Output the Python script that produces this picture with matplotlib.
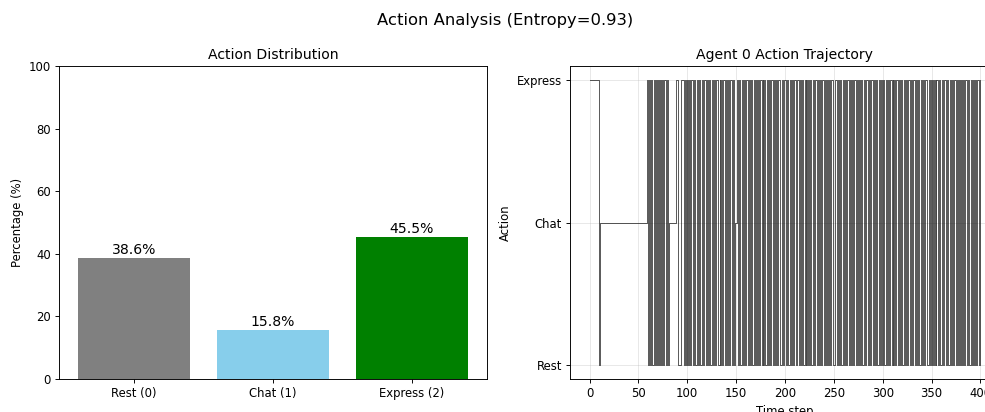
import matplotlib
matplotlib.use('Agg')
import matplotlib.pyplot as plt
import numpy as np

# action shares (%) over the run
actions = ['Rest (0)', 'Chat (1)', 'Express (2)']
shares = [38.6, 15.8, 45.5]
bar_colors = ['gray', 'skyblue', 'green']
entropy = 0.93

# agent 0 actions, 50 steps per row (0=Rest, 1=Chat, 2=Express)
traj_rows = [
    "2222222222 0111111111 1111111111 1111111111 1111111111",  # 0-49
    "1111111112 0202002020 2020202202 0111111122 2000222020",  # 50-99
    "2020220200 2020020220 2020020202 2002020220 2020220201",  # 100-149
    "1202002020 2202020020 2020220202 0020202202 0202200202",  # 150-199
    "2020020202 2022020200 2020202002 0220202022 0202020220",  # 200-249
    "0220202002 0202200202 0220202020 0202202022 0202002020",  # 250-299
    "2002020220 2020220202 0020202202 0220202002 0202200202",  # 300-349
    "0202022020 0202202002 0202202020 2020220200 2020202202",  # 350-399
]
traj = [int(c) for row in traj_rows for c in row.replace(' ', '')]
action_names = ['Rest', 'Chat', 'Express']

W, H, DPI = 985, 412, 84
fig = plt.figure(figsize=(W / DPI, H / DPI), dpi=DPI)

def box(x0, y0, x1, y1):
    return [x0 / W, 1 - y1 / H, (x1 - x0) / W, (y1 - y0) / H]

ax1 = fig.add_axes(box(59, 66, 487, 379))
ax2 = fig.add_axes(box(570, 66, 999, 379))

bars = ax1.bar(actions, shares, color=bar_colors)
for b, v in zip(bars, shares):
    ax1.text(b.get_x() + b.get_width() / 2, v + 0.3, '%.1f%%' % v,
             ha='center', va='bottom', fontsize=12)
ax1.set_ylim(0, 100)
ax1.set_ylabel('Percentage (%)')
ax1.set_title('Action Distribution')

ax2.step(np.arange(len(traj)), traj, where='post', color='black',
         alpha=0.72, linewidth=0.75)
ax2.set_yticks([0, 1, 2])
ax2.set_yticklabels(action_names)
ax2.set_xlabel('Time step')
ax2.set_ylabel('Action')
ax2.set_title('Agent 0 Action Trajectory')
ax2.grid(True, alpha=0.3)

fig.suptitle('Action Analysis (Entropy=%.2f)' % entropy, fontsize=14,
             x=505.5 / W, y=1 - 21 / H, va='center')

fig.savefig('out.png', dpi=DPI)
